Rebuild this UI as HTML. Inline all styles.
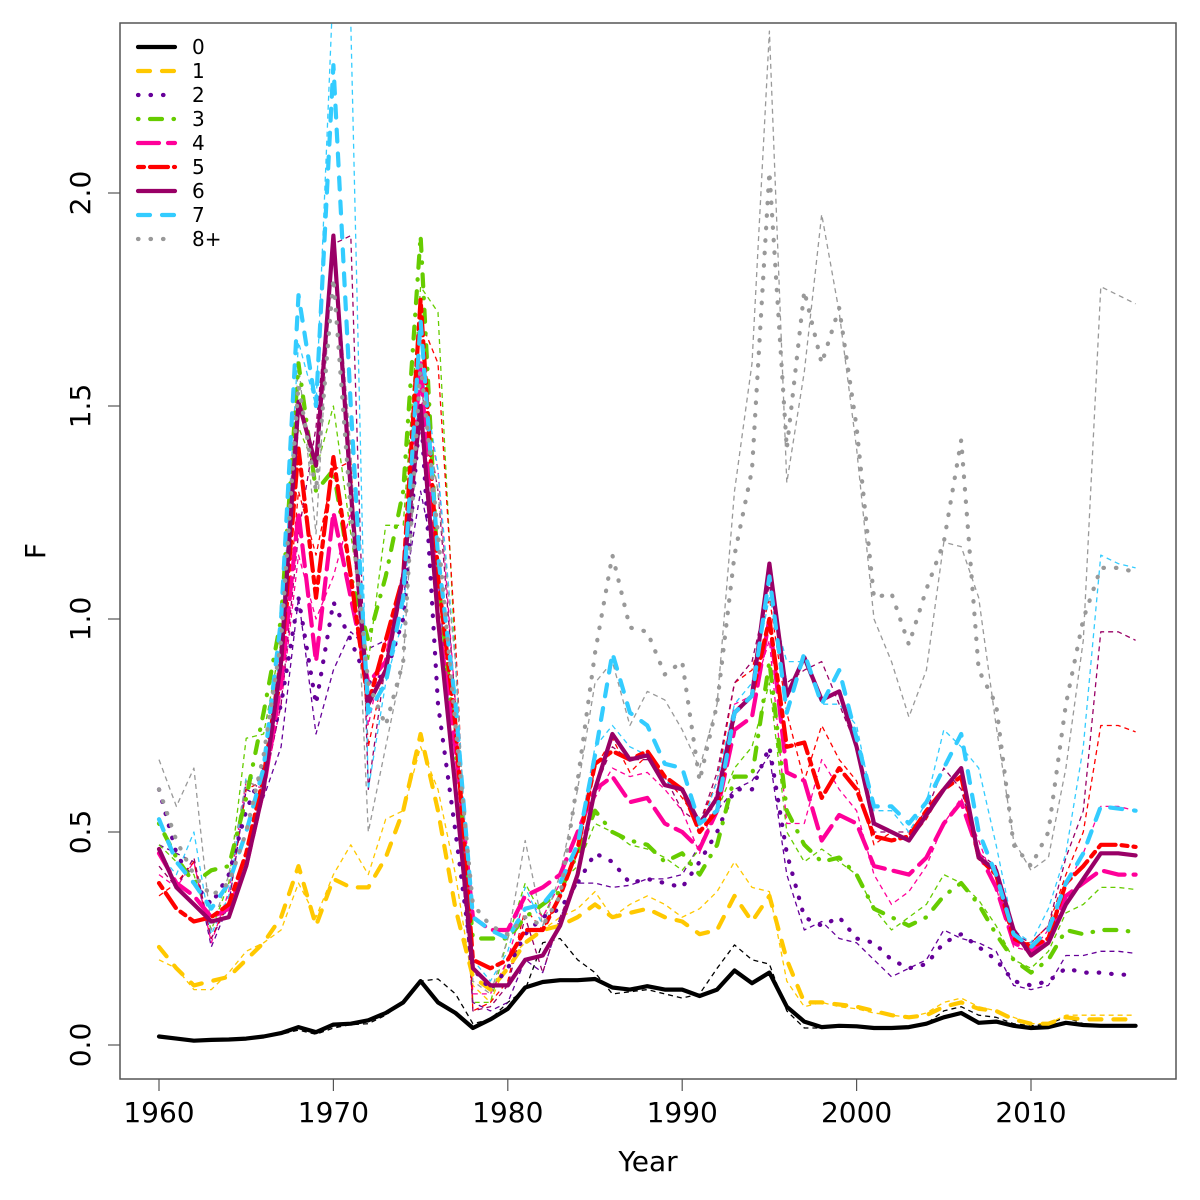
<!DOCTYPE html>
<html><head><meta charset="utf-8"><style>
body{margin:0;background:#fff}
svg{display:block;font-family:"DejaVu Sans","Liberation Sans",sans-serif}
</style></head><body>
<svg id="chart" width="1200" height="1200" viewBox="0 0 1200 1200" xmlns="http://www.w3.org/2000/svg">
<defs><clipPath id="plotclip"><rect x="120" y="23" width="1056" height="1056"/></clipPath></defs>
<rect x="0" y="0" width="1200" height="1200" fill="#fff"/>
<g id="series" clip-path="url(#plotclip)"></g>
<rect x="120" y="23" width="1056" height="1056" fill="none" stroke="#555" stroke-width="1.5"/>
<g id="axes"></g>
<g id="legend"></g>
<text x="648" y="1171" font-size="28" text-anchor="middle">Year</text>
<text x="45" y="551" font-size="28" text-anchor="middle" transform="rotate(-90 45 551)">F</text>
</svg>
<script>
const years = [];
for (let y = 1960; y <= 2016; y++) years.push(y);
const ageLabels = ["0","1","2","3","4","5","6","7","8+"];
const xTicks = [1960,1970,1980,1990,2000,2010];
const yTicks = [0,0.5,1,1.5,2];
const yTickLabels = ["0.0","0.5","1.0","1.5","2.0"];

const thick0 = [.02,.015,.01,.012,.013,.015,.02,.028,.042,.03,.048,.05,.058,.075,.1,.15,.1,.075,.04,.06,.085,.135,.148,.152,.152,.155,.135,.13,.138,.13,.13,.115,.13,.175,.145,.17,.09,.055,.042,.045,.044,.04,.04,.042,.05,.065,.075,.052,.055,.045,.04,.042,.052,.047,.045,.045,.045];
const thin0 = [.02,.015,.01,.012,.013,.015,.018,.025,.035,.025,.04,.048,.05,.07,.1,.15,.155,.12,.05,.06,.1,.13,.24,.25,.2,.17,.12,.125,.13,.12,.11,.12,.18,.235,.2,.19,.08,.04,.04,.045,.044,.04,.04,.042,.05,.08,.09,.07,.065,.05,.045,.05,.065,.05,.045,.045,.045];
const thick1 = [.23,.18,.14,.15,.16,.2,.24,.3,.42,.28,.39,.37,.37,.44,.55,.73,.55,.32,.16,.13,.18,.24,.27,.28,.3,.33,.3,.31,.32,.3,.29,.26,.27,.35,.29,.35,.2,.1,.1,.095,.09,.08,.07,.065,.07,.09,.1,.085,.08,.06,.05,.05,.065,.06,.06,.06,.06];
const thin1 = [.2,.18,.13,.13,.17,.22,.24,.27,.38,.3,.4,.47,.4,.53,.55,.7,.6,.4,.14,.1,.2,.24,.27,.3,.32,.36,.3,.33,.35,.33,.3,.32,.36,.43,.37,.36,.15,.09,.1,.09,.085,.075,.07,.065,.075,.1,.11,.09,.08,.065,.05,.05,.07,.07,.07,.07,.07];
const thick2 = [.6,.45,.38,.33,.4,.55,.65,.8,1.05,.8,1.04,.95,.85,.87,1.0,1.5,.8,.5,.18,.13,.18,.26,.3,.32,.38,.45,.43,.38,.39,.38,.37,.43,.5,.6,.6,.7,.45,.3,.28,.3,.25,.24,.2,.18,.19,.24,.26,.23,.2,.15,.14,.15,.18,.17,.17,.165,.165];
const thin2 = [.47,.45,.43,.23,.33,.6,.58,.7,1.05,.73,.88,.97,.93,.95,1.05,1.3,1.1,.6,.1,.08,.1,.2,.17,.3,.38,.38,.37,.375,.39,.39,.4,.47,.55,.6,.62,.68,.4,.27,.29,.25,.24,.2,.16,.18,.2,.27,.25,.24,.22,.14,.13,.14,.21,.21,.22,.22,.215];
const thick3 = [.52,.44,.38,.41,.42,.58,.78,1.0,1.6,1.3,1.35,1.1,.95,1.1,1.3,1.9,1.1,.7,.25,.25,.25,.3,.33,.36,.45,.55,.5,.48,.47,.43,.45,.4,.47,.63,.63,.9,.55,.47,.43,.44,.4,.32,.3,.28,.3,.35,.38,.33,.26,.2,.17,.2,.27,.26,.27,.27,.265];
const thin3 = [.47,.43,.4,.27,.38,.72,.73,.95,1.45,1.35,1.5,1.2,.9,1.22,1.22,1.78,1.72,.9,.1,.1,.25,.38,.3,.38,.42,.52,.5,.47,.46,.44,.41,.46,.55,.65,.7,.85,.5,.43,.46,.43,.4,.32,.27,.3,.33,.4,.38,.34,.28,.2,.18,.22,.31,.33,.37,.37,.365];
const thick4 = [.45,.38,.35,.3,.32,.42,.6,.85,1.25,.9,1.25,1.05,.85,.9,1.1,1.6,1.0,.7,.3,.27,.27,.35,.37,.4,.5,.6,.63,.57,.58,.52,.5,.46,.55,.74,.77,1.0,.64,.62,.48,.54,.52,.42,.41,.4,.44,.52,.57,.45,.37,.24,.22,.25,.35,.38,.41,.4,.4];
const thin4 = [.4,.37,.43,.24,.36,.62,.6,.8,1.15,1.0,1.1,1.25,.75,.95,1.1,1.55,1.35,.8,.12,.12,.2,.35,.3,.38,.45,.58,.65,.63,.64,.6,.55,.45,.6,.8,.82,.95,.52,.52,.67,.6,.55,.4,.33,.36,.42,.52,.58,.48,.37,.23,.22,.27,.37,.45,.56,.56,.55];
const thick5 = [.38,.32,.29,.3,.33,.45,.63,.9,1.4,1.05,1.38,1.1,.8,.95,1.1,1.75,1.1,.75,.2,.18,.2,.27,.27,.35,.46,.66,.69,.67,.69,.63,.6,.5,.55,.78,.82,1.0,.7,.71,.58,.65,.6,.49,.48,.49,.55,.6,.63,.44,.4,.25,.23,.25,.38,.42,.47,.47,.465];
const thin5 = [.35,.38,.43,.25,.34,.6,.62,.85,1.3,1.15,1.35,1.37,.7,.9,1.1,1.7,1.6,.95,.08,.1,.15,.32,.27,.35,.45,.65,.72,.64,.68,.63,.58,.52,.62,.85,.88,1.05,.78,.62,.75,.67,.62,.47,.5,.48,.53,.6,.65,.45,.4,.24,.24,.28,.4,.5,.75,.75,.735];
const thick6 = [.46,.37,.33,.29,.3,.42,.6,.9,1.51,1.36,1.9,1.3,.8,.88,1.1,1.5,1.0,.6,.18,.14,.14,.2,.21,.28,.4,.6,.73,.67,.68,.61,.6,.52,.58,.78,.82,1.13,.82,.91,.81,.83,.7,.52,.5,.48,.54,.6,.65,.44,.41,.27,.21,.24,.33,.39,.45,.45,.445];
const thin6 = [.42,.37,.44,.25,.33,.62,.6,.8,1.2,1.45,1.88,1.9,.6,.9,1.1,1.55,1.3,.8,.08,.09,.14,.3,.17,.3,.4,.6,.7,.67,.67,.63,.55,.52,.64,.85,.9,1.08,.85,.88,.9,.8,.7,.5,.5,.5,.55,.65,.6,.45,.42,.26,.24,.28,.44,.55,.97,.97,.95];
const thick7 = [.53,.43,.38,.32,.38,.5,.65,1.0,1.76,1.5,2.3,1.5,.78,.85,1.05,1.7,1.15,.8,.3,.27,.25,.32,.33,.38,.47,.68,.92,.78,.75,.66,.65,.52,.55,.78,.82,1.1,.78,.92,.8,.88,.72,.56,.56,.52,.57,.65,.73,.5,.4,.26,.23,.27,.38,.45,.56,.555,.55];
const thin7 = [.45,.4,.5,.26,.35,.63,.62,.95,1.65,1.5,2.5,2.4,.6,.85,1.0,1.6,1.35,.9,.2,.15,.22,.37,.28,.35,.47,.7,.75,.7,.68,.62,.6,.5,.62,.8,.85,1.05,.9,.9,.8,.8,.75,.55,.55,.5,.57,.74,.7,.65,.47,.27,.24,.32,.45,.7,1.15,1.13,1.12];
const thick8 = [.6,.48,.4,.35,.38,.5,.68,.95,1.55,1.3,1.8,1.25,.85,.75,.9,1.6,1.2,.75,.33,.28,.26,.3,.28,.35,.62,.92,1.15,.98,.97,.87,.9,.62,.8,1.15,1.35,2.05,1.4,1.77,1.6,1.73,1.45,1.05,1.06,.94,1.07,1.18,1.42,.88,.8,.47,.42,.5,.8,1.0,1.12,1.12,1.11];
const thin8 = [.67,.56,.65,.27,.4,.62,.6,.95,1.6,1.2,1.9,1.4,.5,.7,.9,1.55,1.3,.9,.15,.12,.25,.48,.28,.4,.6,.85,.9,.75,.83,.81,.74,.65,.8,1.3,1.6,2.38,1.32,1.58,1.95,1.72,1.4,1.0,.9,.77,.88,1.18,1.17,1.05,.75,.48,.41,.44,.65,.95,1.78,1.76,1.74];

const thickSeries = [thick0,thick1,thick2,thick3,thick4,thick5,thick6,thick7,thick8];
const thinSeries = [thin0,thin1,thin2,thin3,thin4,thin5,thin6,thin7,thin8];
const colors = ["#000000","#FFC800","#660099","#66CC00","#FF0099","#FF0000","#990066","#33CCFF","#999999"];
const dashes = ["","12 12","0.5 12","0.5 11.5 12 11.5","21 9","6 6 18 6","","12 12","0.5 12"];

const NS = "http://www.w3.org/2000/svg";
function xScale(yr){ return 159 + (yr - 1960) * (1031 - 159) / 50; }
function yScale(v){ return 1045 - v * 426; }

const sg = document.getElementById('series');
function drawLine(vals, color, width, dash, name){
  const p = document.createElementNS(NS,'path');
  let d = '';
  vals.forEach((v,i)=>{ d += (i? 'L':'M') + xScale(years[i]).toFixed(1) + ' ' + yScale(v).toFixed(1); });
  p.setAttribute('d', d);
  p.setAttribute('fill','none');
  p.setAttribute('stroke', color);
  p.setAttribute('stroke-width', width);
  p.setAttribute('stroke-linejoin','round');
  if (dash) p.setAttribute('stroke-dasharray', dash);
  p.setAttribute('stroke-linecap', width > 2 ? 'round' : 'butt');
  
  
  sg.appendChild(p);
}
thinSeries.forEach((s,i)=>{ drawLine(s, colors[i], 1.3, "5 4", 'thin-line-age-' + i); });
thickSeries.forEach((s,i)=>{ drawLine(s, colors[i], 4.2, dashes[i], 'line-age-' + i); });

const ax = document.getElementById('axes');
xTicks.forEach(t=>{
  const l = document.createElementNS(NS,'line');
  l.setAttribute('x1', xScale(t)); l.setAttribute('x2', xScale(t));
  l.setAttribute('y1', 1079); l.setAttribute('y2', 1091);
  l.setAttribute('stroke','#555'); l.setAttribute('stroke-width','1.2');
  
  
  ax.appendChild(l);
  const tx = document.createElementNS(NS,'text');
  tx.setAttribute('x', xScale(t)); tx.setAttribute('y', 1122);
  tx.setAttribute('font-size','28'); tx.setAttribute('text-anchor','middle');
  tx.textContent = String(t);
  
  
  ax.appendChild(tx);
});
yTicks.forEach((t,i)=>{
  const l = document.createElementNS(NS,'line');
  l.setAttribute('x1', 108); l.setAttribute('x2', 120);
  l.setAttribute('y1', yScale(t)); l.setAttribute('y2', yScale(t));
  l.setAttribute('stroke','#555'); l.setAttribute('stroke-width','1.2');
  
  
  ax.appendChild(l);
  const tx = document.createElementNS(NS,'text');
  const yy = yScale(t);
  tx.setAttribute('x', 90); tx.setAttribute('y', yy);
  tx.setAttribute('font-size','28'); tx.setAttribute('text-anchor','middle');
  tx.setAttribute('transform','rotate(-90 90 ' + yy + ')');
  tx.textContent = yTickLabels[i];
  
  
  ax.appendChild(tx);
});

const lg = document.getElementById('legend');


ageLabels.forEach((lab,i)=>{
  const y = 47 + i * 24;
  const l = document.createElementNS(NS,'line');
  l.setAttribute('x1', 138); l.setAttribute('x2', 175);
  l.setAttribute('y1', y); l.setAttribute('y2', y);
  l.setAttribute('stroke', colors[i]); l.setAttribute('stroke-width', 4.2);
  l.setAttribute('stroke-linecap','round');
  if (dashes[i]) l.setAttribute('stroke-dasharray', dashes[i]);
  
  
  lg.appendChild(l);
  const tx = document.createElementNS(NS,'text');
  tx.setAttribute('x', 192); tx.setAttribute('y', y + 7);
  tx.setAttribute('font-size','20');
  tx.textContent = lab;
  
  
  lg.appendChild(tx);
});
</script>
</body></html>
